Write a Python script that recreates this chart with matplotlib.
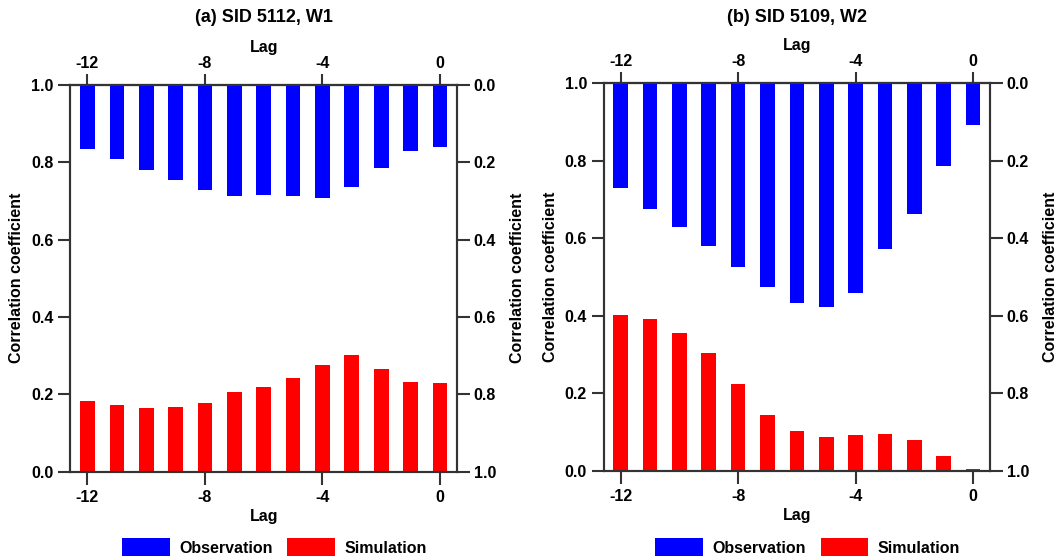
import numpy as np
import matplotlib
matplotlib.use("Agg")
import matplotlib.pyplot as plt
from matplotlib.patches import Patch

plt.rcParams['font.family'] = ['Liberation Sans', 'DejaVu Sans']
plt.rcParams['font.weight'] = 'bold'

# lags -12 .. 0
lags = np.arange(-12, 1)

# (a) SID 5112, W1
obs_a = [0.166, 0.192, 0.220, 0.247, 0.273, 0.288, 0.284, 0.287, 0.293, 0.264, 0.214, 0.170, 0.161]
sim_a = [0.184, 0.172, 0.165, 0.167, 0.177, 0.205, 0.219, 0.241, 0.277, 0.301, 0.266, 0.231, 0.229]

# (b) SID 5109, W2
obs_b = [0.271, 0.324, 0.370, 0.419, 0.474, 0.525, 0.566, 0.577, 0.541, 0.429, 0.338, 0.214, 0.107]
sim_b = [0.403, 0.391, 0.355, 0.303, 0.223, 0.145, 0.102, 0.088, 0.092, 0.094, 0.078, 0.038, 0.005]

titles = ['(a) SID 5112, W1', '(b) SID 5109, W2']
xticks = [-12, -8, -4, 0]
yticks = [0.0, 0.2, 0.4, 0.6, 0.8, 1.0]

blue = '#0000ff'
red = '#ff0000'
spine_col = '#333333'
fs = 11.5

fig = plt.figure(figsize=(10.61, 5.56), dpi=100)

rects = [[0.0664, 0.1516, 0.3643, 0.696],
         [0.5690, 0.1534, 0.3641, 0.6968]]

for rect, title, obs, sim in zip(rects, titles, [obs_a, obs_b], [sim_a, sim_b]):
    ax = fig.add_axes(rect)
    ax2 = ax.twinx()

    # simulation bars rise from the bottom (left axis)
    ax.bar(lags, sim, width=0.5, color=red, zorder=2)
    # observation bars hang from the top (right axis, inverted)
    ax2.bar(lags, obs, width=0.5, color=blue, zorder=2)

    ax.set_xlim(-12.58, 0.58)
    ax.set_ylim(0, 1)
    ax2.set_ylim(1, 0)

    ax.set_xticks(xticks)
    ax.set_xticklabels([str(t) for t in xticks])
    ax.set_yticks(yticks)
    ax.set_yticklabels([f'{t:.1f}' for t in yticks])
    ax2.set_yticks(yticks)
    ax2.set_yticklabels([f'{t:.1f}' for t in yticks])

    secax = ax.secondary_xaxis('top')
    secax.set_xticks(xticks)
    secax.set_xticklabels([str(t) for t in xticks])
    secax.set_xlabel('Lag', fontsize=fs, fontweight='bold', labelpad=3)
    secax.tick_params(direction='out', length=8, width=1.5, color=spine_col,
                      labelsize=fs, pad=2)
    secax.spines['top'].set_color(spine_col)
    secax.spines['top'].set_linewidth(1.5)

    for a in (ax, ax2):
        for s in a.spines.values():
            s.set_color(spine_col)
            s.set_linewidth(1.5)
        a.tick_params(direction='out', length=9, width=1.5, color=spine_col,
                      labelsize=fs)

    ax.tick_params(axis='y', pad=3)
    ax2.tick_params(axis='y', pad=3)
    ax.tick_params(axis='x', pad=4)

    ax.set_xlabel('Lag', fontsize=fs, fontweight='bold', labelpad=3)
    ax.set_ylabel('Correlation coefficient', fontsize=fs, fontweight='bold', labelpad=5)
    ax2.set_ylabel('Correlation coefficient', fontsize=fs, fontweight='bold',
                   rotation=90, labelpad=10)

    cx = rect[0] + rect[2] / 2
    fig.text(cx, 1 - 18 / 556, title, ha='center', va='center',
             fontsize=13, fontweight='bold')

    handles = [Patch(facecolor=blue, label='Observation'),
               Patch(facecolor=red, label='Simulation')]
    fig.legend(handles=handles, loc='lower center', bbox_to_anchor=(cx + 0.01, -0.03),
               ncol=2, frameon=False, handlelength=3.0,
               handleheight=1.6, handletextpad=0.56, columnspacing=0.94,
               prop={'weight': 'bold', 'size': fs})

fig.savefig('out.png', dpi=100)
